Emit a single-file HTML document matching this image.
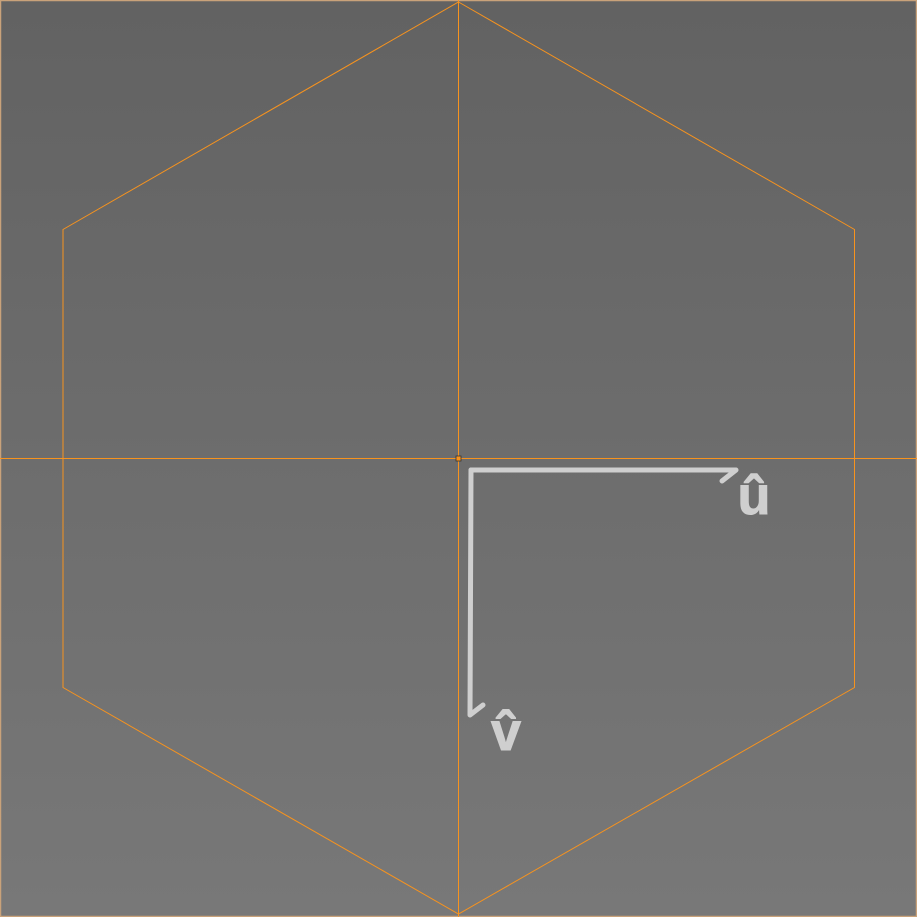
<!DOCTYPE html>
<html><head><meta charset="utf-8"><style>
html,body{margin:0;padding:0;width:917px;height:917px;overflow:hidden}
svg{display:block}
</style></head><body>
<svg width="917" height="917" viewBox="0 0 917 917">
<defs><linearGradient id="bg" x1="0" y1="0" x2="0" y2="1"><stop offset="0" stop-color="#626262"/><stop offset="1" stop-color="#787878"/></linearGradient></defs>
<rect x="0.5" y="0.5" width="916" height="916" fill="url(#bg)" stroke="#c9a27a" stroke-width="1.5"/>
<line x1="0" y1="458.5" x2="917" y2="458.5" stroke="#f7931e" stroke-width="1"/>
<line x1="458.5" y1="0" x2="458.5" y2="917" stroke="#f7931e" stroke-width="1"/>
<polygon points="458.5,2 854.5,229.5 854.5,687.5 458.5,914 63,687.5 63,229.5" fill="none" stroke="#f7931e" stroke-width="1"/>
<rect x="456" y="456" width="5" height="5" fill="#f7931e" stroke="#333" stroke-width="0.8"/>
<g stroke="#cfcfcf" stroke-width="5" stroke-linecap="round" stroke-linejoin="round" fill="none">
<path d="M471,470 L736,470 M736,470 L722,481"/>
<path d="M471,470 L470,715 M470,715 L483,705"/>
</g>
<text x="754" y="514" font-family="Liberation Sans, DejaVu Sans, sans-serif" font-size="54" font-weight="bold" fill="#cfcfcf" stroke="#cfcfcf" stroke-width="1" text-anchor="middle">û</text>
<text x="506" y="750" font-family="Liberation Sans, DejaVu Sans, sans-serif" font-size="54" font-weight="bold" fill="#cfcfcf" stroke="#cfcfcf" stroke-width="1" text-anchor="middle">v̂</text>
</svg>
</body></html>
